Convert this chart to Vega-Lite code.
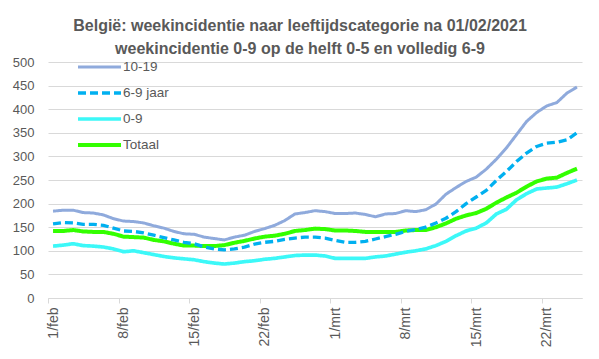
{
  "$schema": "https://vega.github.io/schema/vega-lite/v6.json",
  "width": 534,
  "height": 236,
  "autosize": "none",
  "padding": {"left": 48, "top": 62, "right": 17, "bottom": 61},
  "background": "white",
  "title": {
    "text": ["België: weekincidentie naar leeftijdscategorie na 01/02/2021", "weekincidentie 0-9 op de helft 0-5 en volledig 6-9"],
    "font": "Liberation Sans",
    "fontSize": 16,
    "fontWeight": "bold",
    "color": "#595959",
    "lineHeight": 23,
    "anchor": "middle",
    "dx": -15,
    "offset": -3
  },
  "data": {
    "values": [
      {"date": "2021-02-01", "10-19": 184, "6-9 jaar": 157, "0-9": 110, "Totaal": 142},
      {"date": "2021-02-02", "10-19": 186, "6-9 jaar": 160, "0-9": 112, "Totaal": 142},
      {"date": "2021-02-03", "10-19": 186, "6-9 jaar": 159, "0-9": 115, "Totaal": 144},
      {"date": "2021-02-04", "10-19": 181, "6-9 jaar": 156, "0-9": 111, "Totaal": 141},
      {"date": "2021-02-05", "10-19": 180, "6-9 jaar": 156, "0-9": 110, "Totaal": 140},
      {"date": "2021-02-06", "10-19": 176, "6-9 jaar": 154, "0-9": 108, "Totaal": 140},
      {"date": "2021-02-07", "10-19": 168, "6-9 jaar": 148, "0-9": 104, "Totaal": 136},
      {"date": "2021-02-08", "10-19": 163, "6-9 jaar": 142, "0-9": 98, "Totaal": 130},
      {"date": "2021-02-09", "10-19": 162, "6-9 jaar": 141, "0-9": 100, "Totaal": 129},
      {"date": "2021-02-10", "10-19": 159, "6-9 jaar": 138, "0-9": 96, "Totaal": 128},
      {"date": "2021-02-11", "10-19": 153, "6-9 jaar": 133, "0-9": 92, "Totaal": 123},
      {"date": "2021-02-12", "10-19": 148, "6-9 jaar": 128, "0-9": 88, "Totaal": 120},
      {"date": "2021-02-13", "10-19": 141, "6-9 jaar": 123, "0-9": 85, "Totaal": 115},
      {"date": "2021-02-14", "10-19": 136, "6-9 jaar": 118, "0-9": 83, "Totaal": 111},
      {"date": "2021-02-15", "10-19": 135, "6-9 jaar": 115, "0-9": 81, "Totaal": 111},
      {"date": "2021-02-16", "10-19": 129, "6-9 jaar": 108, "0-9": 77, "Totaal": 110},
      {"date": "2021-02-17", "10-19": 126, "6-9 jaar": 104, "0-9": 74, "Totaal": 110},
      {"date": "2021-02-18", "10-19": 123, "6-9 jaar": 102, "0-9": 72, "Totaal": 112},
      {"date": "2021-02-19", "10-19": 129, "6-9 jaar": 104, "0-9": 74, "Totaal": 117},
      {"date": "2021-02-20", "10-19": 133, "6-9 jaar": 108, "0-9": 77, "Totaal": 121},
      {"date": "2021-02-21", "10-19": 141, "6-9 jaar": 114, "0-9": 79, "Totaal": 126},
      {"date": "2021-02-22", "10-19": 147, "6-9 jaar": 118, "0-9": 82, "Totaal": 130},
      {"date": "2021-02-23", "10-19": 154, "6-9 jaar": 120, "0-9": 84, "Totaal": 132},
      {"date": "2021-02-24", "10-19": 164, "6-9 jaar": 124, "0-9": 87, "Totaal": 136},
      {"date": "2021-02-25", "10-19": 178, "6-9 jaar": 127, "0-9": 90, "Totaal": 142},
      {"date": "2021-02-26", "10-19": 181, "6-9 jaar": 129, "0-9": 91, "Totaal": 144},
      {"date": "2021-02-27", "10-19": 185, "6-9 jaar": 129, "0-9": 91, "Totaal": 147},
      {"date": "2021-02-28", "10-19": 183, "6-9 jaar": 127, "0-9": 89, "Totaal": 146},
      {"date": "2021-03-01", "10-19": 179, "6-9 jaar": 122, "0-9": 84, "Totaal": 143},
      {"date": "2021-03-02", "10-19": 179, "6-9 jaar": 118, "0-9": 84, "Totaal": 143},
      {"date": "2021-03-03", "10-19": 180, "6-9 jaar": 118, "0-9": 84, "Totaal": 142},
      {"date": "2021-03-04", "10-19": 177, "6-9 jaar": 120, "0-9": 84, "Totaal": 140},
      {"date": "2021-03-05", "10-19": 172, "6-9 jaar": 125, "0-9": 87, "Totaal": 140},
      {"date": "2021-03-06", "10-19": 178, "6-9 jaar": 130, "0-9": 89, "Totaal": 140},
      {"date": "2021-03-07", "10-19": 179, "6-9 jaar": 135, "0-9": 93, "Totaal": 140},
      {"date": "2021-03-08", "10-19": 185, "6-9 jaar": 141, "0-9": 97, "Totaal": 143},
      {"date": "2021-03-09", "10-19": 183, "6-9 jaar": 145, "0-9": 100, "Totaal": 144},
      {"date": "2021-03-10", "10-19": 187, "6-9 jaar": 150, "0-9": 104, "Totaal": 144},
      {"date": "2021-03-11", "10-19": 199, "6-9 jaar": 159, "0-9": 111, "Totaal": 150},
      {"date": "2021-03-12", "10-19": 220, "6-9 jaar": 169, "0-9": 120, "Totaal": 158},
      {"date": "2021-03-13", "10-19": 234, "6-9 jaar": 183, "0-9": 132, "Totaal": 168},
      {"date": "2021-03-14", "10-19": 247, "6-9 jaar": 200, "0-9": 142, "Totaal": 175},
      {"date": "2021-03-15", "10-19": 256, "6-9 jaar": 214, "0-9": 148, "Totaal": 180},
      {"date": "2021-03-16", "10-19": 273, "6-9 jaar": 228, "0-9": 159, "Totaal": 189},
      {"date": "2021-03-17", "10-19": 294, "6-9 jaar": 249, "0-9": 178, "Totaal": 202},
      {"date": "2021-03-18", "10-19": 318, "6-9 jaar": 268, "0-9": 188, "Totaal": 213},
      {"date": "2021-03-19", "10-19": 346, "6-9 jaar": 289, "0-9": 208, "Totaal": 223},
      {"date": "2021-03-20", "10-19": 374, "6-9 jaar": 307, "0-9": 221, "Totaal": 236},
      {"date": "2021-03-21", "10-19": 393, "6-9 jaar": 321, "0-9": 231, "Totaal": 247},
      {"date": "2021-03-22", "10-19": 407, "6-9 jaar": 328, "0-9": 233, "Totaal": 253},
      {"date": "2021-03-23", "10-19": 414, "6-9 jaar": 330, "0-9": 235, "Totaal": 255},
      {"date": "2021-03-24", "10-19": 434, "6-9 jaar": 335, "0-9": 242, "Totaal": 265},
      {"date": "2021-03-25", "10-19": 447, "6-9 jaar": 350, "0-9": 250, "Totaal": 274}
    ]
  },
  "transform": [
    {"fold": ["10-19", "0-9", "Totaal", "6-9 jaar"], "as": ["reeks", "waarde"]}
  ],
  "mark": {"type": "line", "strokeJoin": "round"},
  "encoding": {
    "x": {
      "field": "date",
      "type": "temporal",
      "scale": {
        "type": "utc",
        "domain": [
          {"year": 2021, "month": 1, "date": 31, "hours": 12, "utc": true},
          {"year": 2021, "month": 3, "date": 25, "hours": 12, "utc": true}
        ]
      },
      "axis": {
        "title": null,
        "values": [
          {"year": 2021, "month": 2, "date": 1, "utc": true},
          {"year": 2021, "month": 2, "date": 8, "utc": true},
          {"year": 2021, "month": 2, "date": 15, "utc": true},
          {"year": 2021, "month": 2, "date": 22, "utc": true},
          {"year": 2021, "month": 3, "date": 1, "utc": true},
          {"year": 2021, "month": 3, "date": 8, "utc": true},
          {"year": 2021, "month": 3, "date": 15, "utc": true},
          {"year": 2021, "month": 3, "date": 22, "utc": true}
        ],
        "labelExpr": "utcdate(datum.value) + '/' + (utcmonth(datum.value) == 1 ? 'feb' : 'mrt')",
        "labelAngle": -90,
        "labelFont": "Liberation Sans",
        "labelFontSize": 14,
        "labelColor": "#595959",
        "labelPadding": 4,
        "tickOffset": -5,
        "labelOffset": 5,
        "tickSize": 5,
        "tickColor": "#D9D9D9",
        "domainColor": "#D9D9D9",
        "grid": false,
        "labelOverlap": false,
        "labelFlush": false
      }
    },
    "y": {
      "field": "waarde",
      "type": "quantitative",
      "scale": {"domain": [0, 500], "nice": false},
      "axis": {
        "title": null,
        "values": [0, 50, 100, 150, 200, 250, 300, 350, 400, 450, 500],
        "domain": false,
        "ticks": false,
        "labelPadding": 14,
        "labelFont": "Liberation Sans",
        "labelFontSize": 13,
        "labelColor": "#595959",
        "gridColor": "#D9D9D9",
        "gridWidth": 1
      }
    },
    "color": {
      "field": "reeks",
      "type": "nominal",
      "scale": {
        "domain": ["10-19", "6-9 jaar", "0-9", "Totaal"],
        "range": ["#8FAADC", "#00B0F0", "#3CF8F8", "#33FF00"]
      },
      "legend": {
        "title": null,
        "orient": "none",
        "legendX": 28,
        "legendY": -8,
        "symbolType": "stroke",
        "symbolSize": 1849,
        "clipHeight": 26,
        "rowPadding": 0,
        "labelOffset": 0,
        "labelFont": "Liberation Sans",
        "labelFontSize": 13.5,
        "labelColor": "#595959"
      }
    },
    "strokeDash": {
      "field": "reeks",
      "type": "nominal",
      "scale": {
        "domain": ["10-19", "6-9 jaar", "0-9", "Totaal"],
        "range": [[1, 0], [8, 4], [1, 0], [1, 0]]
      },
      "legend": {
        "title": null,
        "orient": "none",
        "legendX": 28,
        "legendY": -8,
        "symbolType": "stroke",
        "symbolSize": 1849,
        "clipHeight": 26,
        "rowPadding": 0,
        "labelOffset": 0,
        "labelFont": "Liberation Sans",
        "labelFontSize": 13.5,
        "labelColor": "#595959"
      }
    },
    "strokeWidth": {
      "field": "reeks",
      "type": "nominal",
      "scale": {
        "domain": ["10-19", "6-9 jaar", "0-9", "Totaal"],
        "range": [3, 4, 3, 3.5]
      },
      "legend": {
        "title": null,
        "orient": "none",
        "legendX": 28,
        "legendY": -8,
        "symbolType": "stroke",
        "symbolSize": 1849,
        "clipHeight": 26,
        "rowPadding": 0,
        "labelOffset": 0,
        "labelFont": "Liberation Sans",
        "labelFontSize": 13.5,
        "labelColor": "#595959"
      }
    }
  },
  "config": {
    "view": {"stroke": null}
  }
}
